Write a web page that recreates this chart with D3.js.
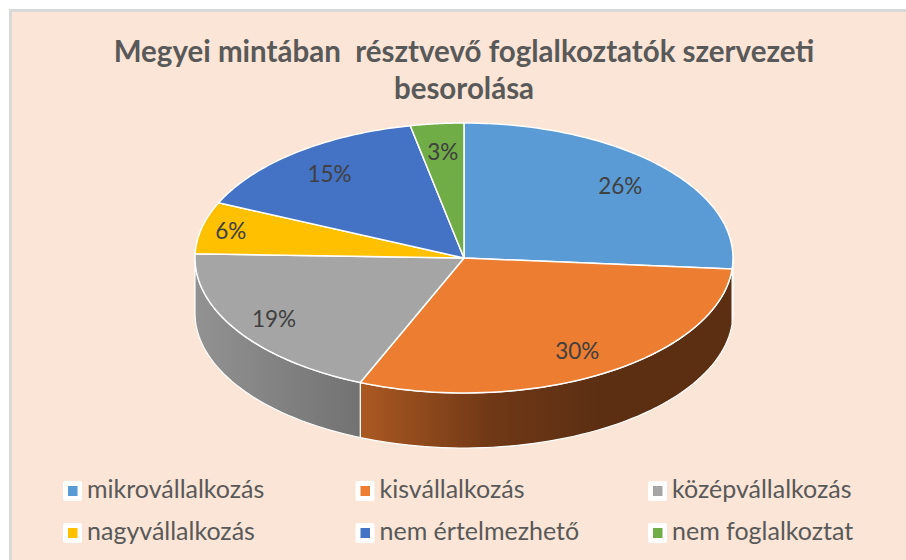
<!DOCTYPE html>
<html>
<head>
<meta charset="utf-8">
<script src="https://cdn.jsdelivr.net/npm/d3@7"></script>
<style>
    html, body { margin: 0; padding: 0; background: #fff; }
    svg { display: block; }
</style>
</head>
<body>
<div id="app"></div>
<script>
const titleLines = ['Megyei mintában  résztvevő foglalkoztatók szervezeti', 'besorolása'];
const categories = ['mikrovállalkozás', 'kisvállalkozás', 'középvállalkozás', 'nagyvállalkozás', 'nem értelmezhető', 'nem foglalkoztat'];
const shares = [26.3, 30, 19.2, 6.2, 15.1, 3.2];
const valueLabels = ['26%', '30%', '19%', '6%', '15%', '3%'];
const colors = ['#5b9bd5', '#ed7d31', '#a5a5a5', '#ffc000', '#4472c4', '#70ad47'];

const width = 906, height = 560;
const cx = 464, cy = 258, rx = 269, ry = 135, depth = 55;
const labelRadius = [0.79, 0.81, 0.84, 0.89, 0.80, 0.79];

const svg = d3.select('#app').append('svg')
    .attr('width', width).attr('height', height)
    .attr('viewBox', `0 0 ${width} ${height}`);

svg.append('rect').attr('x', 10.5).attr('y', 10.5).attr('width', width).attr('height', height)
    .attr('fill', '#fbe5d6').attr('stroke', '#d9d9d9').attr('stroke-width', 3);

// title
svg.append('g').selectAll('text').data(titleLines).join('text')
    .attr('x', 464).attr('y', (d, i) => 62 + i * 37)
    .attr('text-anchor', 'middle')
    .attr('font-family', 'Lato, sans-serif').attr('font-weight', 700).attr('font-size', 29.5)
    .attr('fill', '#595959')
    .style('white-space', 'pre')
    .text(d => d);

// flattened pie: angles from d3.pie, projected on an ellipse
const x = d3.scaleLinear().domain([-1, 1]).range([cx - rx, cx + rx]);
const y = d3.scaleLinear().domain([-1, 1]).range([cy - ry, cy + ry]);
const slices = d3.pie().value(d => d).sort(null)(shares);

const rim = (a0, a1) => d3.range(0, 61).map(i => a0 + (a1 - a0) * i / 60);
const px = (a, r = 1) => x(Math.sin(a) * r);
const py = (a, r = 1) => y(-Math.cos(a) * r);
const line = d3.line().x(d => d[0]).y(d => d[1]);

const defs = svg.append('defs');
const sideGrad = (id, stops) => {
    const g = defs.append('linearGradient').attr('id', id)
        .attr('gradientUnits', 'userSpaceOnUse')
        .attr('x1', x(-1)).attr('x2', x(1)).attr('y1', 0).attr('y2', 0);
    stops.forEach(s => g.append('stop').attr('offset', s[0]).attr('stop-color', s[1]));
};
sideGrad('side0', [[0, '#35597d'], [1, '#35597d']]);
sideGrad('side1', [[0.3, '#ad5a22'], [0.55, '#703816'], [0.75, '#5c2f13'], [1, '#5c2f13']]);
sideGrad('side2', [[0, '#929292'], [0.31, '#727272']]);

// visible part of the wall: front half of the ellipse only
const front = slices.map((s, i) => {
    const a0 = Math.max(s.startAngle, Math.PI / 2);
    const a1 = Math.min(s.endAngle, Math.PI * 1.5);
    return { i, a0, a1 };
}).filter(d => d.a1 > d.a0);

svg.append('g').selectAll('path').data(front).join('path')
    .attr('d', d => {
        const top = rim(d.a0, d.a1).map(a => [px(a), py(a)]);
        const bottom = rim(d.a1, d.a0).map(a => [px(a), py(a) + depth]);
        return line(top.concat(bottom)) + 'Z';
    })
    .attr('fill', d => `url(#side${d.i})`)
    .attr('stroke', '#fff').attr('stroke-width', 1.2).attr('stroke-linejoin', 'round');

svg.append('g').selectAll('path').data(slices).join('path')
    .attr('d', d => {
        const pts = rim(d.startAngle, d.endAngle).map(a => [px(a), py(a)]);
        return line([[x(0), y(0)]].concat(pts)) + 'Z';
    })
    .attr('fill', (d, i) => colors[i])
    .attr('stroke', '#fff').attr('stroke-width', 1.5).attr('stroke-linejoin', 'round');

// data labels
svg.append('g').selectAll('text').data(slices).join('text')
    .attr('x', (d, i) => px((d.startAngle + d.endAngle) / 2, labelRadius[i]))
    .attr('y', (d, i) => py((d.startAngle + d.endAngle) / 2, labelRadius[i]))
    .attr('dy', '0.35em')
    .attr('text-anchor', 'middle')
    .attr('font-family', 'Lato, sans-serif').attr('font-size', 22.5)
    .attr('fill', '#404040')
    .text((d, i) => valueLabels[i]);

// legend, 3 columns x 2 rows
const legX = d3.scalePoint().domain([0, 1, 2]).range([63, 648]);
const legY = d3.scalePoint().domain([0, 1]).range([481, 523]);
const leg = svg.append('g').selectAll('g').data(categories).join('g')
    .attr('transform', (d, i) => `translate(${legX(i % 3)},${legY(Math.floor(i / 3))})`);
leg.append('rect').attr('width', 19).attr('height', 20).attr('rx', 2).attr('fill', '#fff');
leg.append('rect').attr('x', 5).attr('y', 5).attr('width', 9.5).attr('height', 10)
    .attr('fill', (d, i) => colors[i]);
leg.append('text').attr('x', 24).attr('y', 17)
    .attr('font-family', 'Lato, sans-serif').attr('font-size', 25)
    .attr('fill', '#595959')
    .text(d => d);
</script>
</body>
</html>
